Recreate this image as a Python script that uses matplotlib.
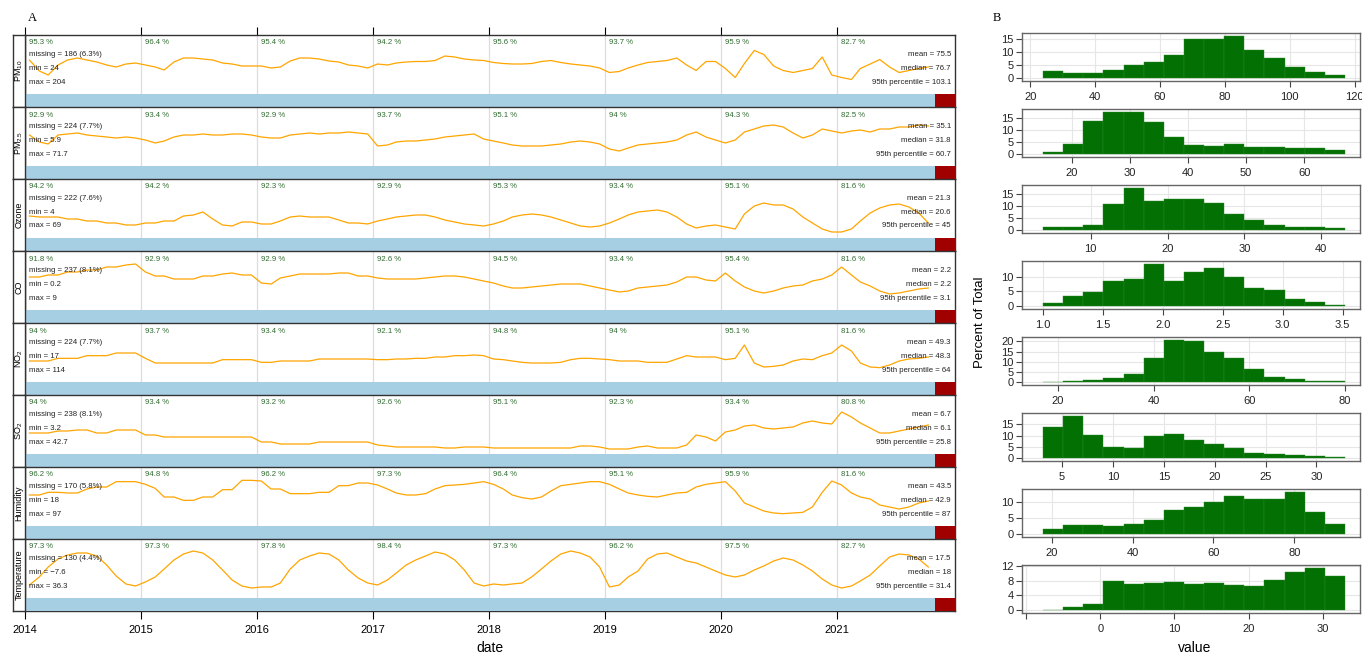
import matplotlib
matplotlib.use('Agg')
import matplotlib.pyplot as plt
import numpy as np
import pandas as pd

plt.rcParams['font.family'] = ['Liberation Sans', 'DejaVu Sans']
plt.rcParams['mathtext.default'] = 'regular'

# %%
# monthly levels (Jan 2014 .. Oct 2021)
pm10 = [90, 68, 60, 80, 90, 94, 90, 86, 80, 76, 82, 84,
        80, 76, 70, 86, 94, 94, 92, 90, 84, 82, 78, 78,
        78, 74, 76, 88, 94, 94, 92, 88, 86, 80, 78, 74,
        82, 80, 84, 86, 87, 87, 89, 98, 96, 92, 90, 89,
        85, 83, 82, 82, 83, 87, 89, 85, 82, 80, 78, 74,
        65, 67, 74, 80, 85, 87, 89, 94, 80, 69, 87, 87,
        73, 55, 83, 109, 101, 78, 69, 65, 69, 73, 96, 60,
        55, 51, 73, 82, 91, 76, 65, 69, 73, 76]
pm25 = [36, 29, 27, 36, 37, 38, 36, 35, 34, 33, 34, 33,
        31, 28, 30, 34, 36, 36, 37, 36, 36, 37, 37, 36,
        34, 33, 33, 36, 37, 38, 37, 38, 38, 39, 38, 37,
        25, 26, 29, 30, 30, 31, 32, 34, 35, 36, 37, 32,
        30, 28, 26, 25, 25, 25, 26, 27, 29, 30, 29, 27,
        22, 20, 23, 26, 27, 28, 29, 31, 36, 39, 34, 31,
        28, 31, 39, 42, 45, 46, 44, 38, 33, 36, 42, 40,
        38, 40, 41, 39, 42, 42, 44, 44, 46, 45]
ozone = [23, 22, 22, 22, 20, 20, 18, 18, 16, 16, 14, 14,
         16, 16, 18, 18, 23, 24, 27, 20, 14, 13, 17, 17,
         15, 15, 18, 22, 23, 22, 22, 22, 19, 16, 16, 15,
         18, 20, 22, 23, 24, 24, 22, 19, 17, 15, 14, 13,
         15, 18, 22, 24, 25, 24, 22, 19, 16, 13, 12, 13,
         16, 20, 24, 27, 28, 29, 27, 22, 15, 11, 13, 14,
         12, 10, 25, 33, 36, 34, 34, 30, 22, 16, 10, 7,
         7, 10, 18, 26, 31, 34, 35, 32, 26, 16]
co = [2.3, 2.3, 2.4, 2.4, 2.55, 2.55, 2.65, 2.65, 2.8, 2.8, 2.9, 2.95,
      2.55, 2.35, 2.35, 2.2, 2.2, 2.2, 2.35, 2.35, 2.45, 2.5, 2.4, 2.4,
      2.0, 1.95, 2.25, 2.35, 2.45, 2.45, 2.45, 2.45, 2.5, 2.5, 2.35, 2.35,
      2.25, 2.2, 2.2, 2.2, 2.2, 2.25, 2.3, 2.35, 2.35, 2.3, 2.2, 2.1,
      2.0, 1.85, 1.75, 1.75, 1.8, 1.85, 1.9, 1.95, 1.95, 1.95, 1.85, 1.75,
      1.65, 1.55, 1.6, 1.75, 1.8, 1.85, 1.9, 2.05, 2.3, 2.3, 2.15, 2.1,
      2.5, 2.1, 1.8, 1.6, 1.5, 1.6, 1.75, 1.85, 1.9, 2.1, 2.2, 2.4,
      2.8, 2.4, 2.05, 1.85, 1.6, 1.45, 1.5, 1.6, 1.7, 1.75]
no2 = [48, 48, 48, 52, 52, 52, 56, 56, 56, 60, 60, 60,
       52, 45, 45, 45, 45, 45, 45, 45, 50, 50, 50, 50,
       46, 46, 48, 48, 48, 48, 51, 51, 51, 51, 51, 51,
       50, 50, 51, 51, 52, 52, 54, 54, 56, 56, 57, 56,
       51, 50, 48, 46, 45, 45, 45, 46, 50, 52, 52, 51,
       50, 48, 48, 48, 46, 46, 46, 51, 56, 54, 54, 54,
       50, 52, 72, 45, 39, 40, 42, 48, 51, 50, 56, 60,
       72, 63, 45, 39, 38, 42, 48, 51, 52, 54]
so2 = [11, 11, 11, 12, 12, 12.5, 12.5, 11, 11, 12.5, 12.5, 12.5,
       10, 10, 9, 9, 9, 9, 9, 9, 9, 9, 9, 9,
       6.5, 6.5, 5.5, 5.5, 5.5, 5.5, 6.5, 6.5, 6.5, 6.5, 6.5, 6.5,
       5, 4.5, 4, 4, 4, 4, 4, 3.5, 3.5, 4, 4, 4,
       3.5, 3.5, 3.5, 3.5, 3.5, 3.5, 3.5, 3.5, 3.5, 4.5, 4.5, 4,
       3, 3, 3, 4, 4.5, 3.5, 3.5, 3.5, 5, 10, 9, 7,
       11.5, 12.5, 14.5, 15, 13.5, 13, 13.5, 14, 16, 17, 16, 15.5,
       21.5, 19, 16, 13.5, 11, 11, 12, 13, 14, 15]
humidity = [48, 48, 52, 52, 51, 51, 57, 60, 60, 68, 68, 68,
            64, 58, 45, 45, 40, 40, 45, 45, 56, 56, 70, 70,
            69, 57, 57, 50, 50, 50, 52, 52, 62, 62, 66, 66,
            63, 57, 51, 48, 48, 50, 57, 62, 63, 64, 66, 68,
            64, 57, 48, 44, 42, 45, 54, 62, 64, 66, 68, 68,
            64, 57, 51, 48, 46, 45, 48, 51, 52, 60, 64, 66,
            68, 54, 36, 30, 24, 21, 20, 21, 22, 30, 52, 69,
            63, 51, 45, 42, 33, 30, 27, 30, 36, 39]
temperature = [-1, 7, 17, 25, 29, 31, 31, 28, 19, 8, 0, -2,
               2, 7, 15, 24, 30, 33, 31, 24, 14, 4, -2, -4,
               -3, -3, 1, 15, 24, 28, 31, 30, 24, 14, 6, 1,
               -1, 4, 11, 19, 24, 28, 32, 30, 24, 14, 1, -2,
               0, -1, 0, 1, 7, 15, 23, 30, 33, 31, 27, 17,
               -3, -1, 7, 13, 25, 30, 31, 27, 23, 21, 17, 13,
               9, 7, 9, 14, 18, 23, 26, 24, 19, 13, 5, -1,
               -4, -2, 3, 9, 18, 27, 30, 29, 25, 17]

series = [pm10, pm25, ozone, co, no2, so2, humidity, temperature]
strip_labels = ['PM$_{10}$', 'PM$_{2.5}$', 'Ozone', 'CO', 'NO$_2$', 'SO$_2$',
                'Humidity', 'Temperature']
ylims = [(-4, 140), (-8, 64), (-12, 60), (0, 3.6), (-3, 105), (-6, 30),
         (-18, 90), (-27, 45)]

capture = [
    ['95.3', '96.4', '95.4', '94.2', '95.6', '93.7', '95.9', '82.7'],
    ['92.9', '93.4', '92.9', '93.7', '95.1', '94', '94.3', '82.5'],
    ['94.2', '94.2', '92.3', '92.9', '95.3', '93.4', '95.1', '81.6'],
    ['91.8', '92.9', '92.9', '92.6', '94.5', '93.4', '95.4', '81.6'],
    ['94', '93.7', '93.4', '92.1', '94.8', '94', '95.1', '81.6'],
    ['94', '93.4', '93.2', '92.6', '95.1', '92.3', '93.4', '80.8'],
    ['96.2', '94.8', '96.2', '97.3', '96.4', '95.1', '95.9', '81.6'],
    ['97.3', '97.3', '97.8', '98.4', '97.3', '96.2', '97.5', '82.7'],
]
missing = ['186 (6.3%)', '224 (7.7%)', '222 (7.6%)', '237 (8.1%)',
           '224 (7.7%)', '238 (8.1%)', '170 (5.8%)', '130 (4.4%)']
mins = ['24', '5.9', '4', '0.2', '17', '3.2', '18', '\u22127.6']
maxs = ['204', '71.7', '69', '9', '114', '42.7', '97', '36.3']
means = ['75.5', '35.1', '21.3', '2.2', '49.3', '6.7', '43.5', '17.5']
medians = ['76.7', '31.8', '20.6', '2.2', '48.3', '6.1', '42.9', '18']
p95 = ['103.1', '60.7', '45', '3.1', '64', '25.8', '87', '31.4']

# histograms (percent of total, 15 bins)
hist_lo = [24, 15.1, 3.8, 1.0, 16.9, 3.14, 17.9, -7.7]
hist_hi = [117, 67.0, 43.1, 3.52, 80.0, 32.8, 92.5, 32.96]
hist_pct = [
    [2.6, 1.8, 2.0, 2.9, 4.9, 6.2, 8.7, 15.1, 15.1, 16.1, 10.6, 7.6, 4.3, 2.4, 1.1],
    [0.7, 4.3, 14.0, 17.4, 17.6, 13.6, 7.2, 3.75, 3.3, 4.3, 2.8, 3.1, 2.5, 2.5, 1.7],
    [1.4, 1.3, 2.2, 11.1, 17.7, 12.1, 13.2, 12.9, 11.5, 6.6, 4.1, 2.1, 1.1, 1.3, 0.7],
    [1.0, 3.3, 4.8, 8.6, 9.2, 14.3, 8.6, 11.6, 12.8, 9.8, 6.1, 5.3, 2.5, 1.5, 0.3],
    [0.2, 0.5, 1.0, 1.8, 3.8, 11.8, 20.7, 20.0, 14.9, 11.6, 6.6, 2.3, 1.3, 0.7, 0.5],
    [13.8, 18.7, 10.3, 4.8, 4.5, 9.7, 10.8, 7.8, 6.3, 4.3, 2.1, 1.8, 1.35, 0.75, 0.45],
    [1.6, 2.8, 2.9, 2.55, 3.1, 4.3, 7.4, 8.6, 10.2, 11.8, 11.0, 11.1, 13.2, 7.0, 3.2],
    [0.1, 0.7, 1.7, 7.9, 7.1, 7.4, 7.6, 7.2, 7.3, 6.9, 6.6, 8.3, 10.4, 11.5, 9.4],
]
hist_xticks = [[20, 40, 60, 80, 100, 120], [20, 30, 40, 50, 60], [10, 20, 30, 40],
               [1.0, 1.5, 2.0, 2.5, 3.0, 3.5], [20, 40, 60, 80],
               [5, 10, 15, 20, 25, 30], [20, 40, 60, 80], [-10, 0, 10, 20, 30]]
hist_xlabels = [['20', '40', '60', '80', '100', '120'], ['20', '30', '40', '50', '60'],
                ['10', '20', '30', '40'], ['1.0', '1.5', '2.0', '2.5', '3.0', '3.5'],
                ['20', '40', '60', '80'], ['5', '10', '15', '20', '25', '30'],
                ['20', '40', '60', '80'], ['', '0', '10', '20', '30']]
hist_yticks = [[0, 5, 10, 15], [0, 5, 10, 15], [0, 5, 10, 15], [0, 5, 10],
               [0, 5, 10, 15, 20], [0, 5, 10, 15], [0, 5, 10], [0, 4, 8, 12]]

# %%
W, H = 1362, 656
fig = plt.figure(figsize=(W / 100, H / 100), dpi=100)


def box(left, top, width, height):
    return [left / W, 1 - (top + height) / H, width / W, height / H]


dates = pd.date_range('2014-01-01', '2021-10-01', freq='MS') + pd.Timedelta(days=14)
x_start = pd.Timestamp('2014-01-01')
data_end = pd.Timestamp('2021-11-04')
x_end = pd.Timestamp('2022-01-07')
years = pd.date_range('2014-01-01', '2021-01-01', freq='YS')

band = 13 / 72
green = '#2f6b30'
for i in range(8):
    top = 35 + 72 * i
    ax = fig.add_axes(box(25, top, 930, 72))
    for y in years:
        ax.axvline(y, color='#dddddd', lw=0.9, zorder=0)
    ax.plot(dates, series[i], color='#FFA500', lw=0.9, zorder=2)
    ax.axvspan(x_start, data_end, ymin=0, ymax=band, color='#a6cfe3', lw=0, zorder=3)
    ax.axvspan(data_end, x_end, ymin=0, ymax=band, color='#a00000', lw=0, zorder=3)
    ax.set_xlim(x_start, x_end)
    ax.set_ylim(*ylims[i])
    ax.set_yticks([])
    for s in ax.spines.values():
        s.set_color('#333333')
        s.set_linewidth(1.0)
    ax.set_xticks(years)
    if i == 0:
        ax.tick_params(axis='x', top=True, bottom=False, labeltop=False,
                       labelbottom=False, direction='out', length=6)
    elif i == 7:
        ax.set_xticklabels([str(y.year) for y in years])
        ax.tick_params(axis='x', bottom=True, direction='out', length=6,
                       labelsize=8, pad=4)
    else:
        ax.tick_params(axis='x', bottom=False, labelbottom=False)

    tr = ax.get_xaxis_transform()
    for y, pct in zip(years, capture[i]):
        ax.text(y + pd.Timedelta(days=12), 1 - 8 / 72, pct + ' %', transform=tr,
                color=green, fontsize=5.6, va='center', ha='left', zorder=4)
    left_txt = ['missing = ' + missing[i], 'min = ' + mins[i], 'max = ' + maxs[i]]
    right_txt = ['mean = ' + means[i], 'median = ' + medians[i],
                 '95th percentile = ' + p95[i]]
    for k, off in enumerate([19.5, 33, 47]):
        ax.text(0.0045, 1 - off / 72, left_txt[k], transform=ax.transAxes,
                fontsize=5.6, va='center', ha='left', color='#222222', zorder=4)
        ax.text(0.9955, 1 - off / 72, right_txt[k], transform=ax.transAxes,
                fontsize=5.6, va='center', ha='right', color='#222222', zorder=4)

    st = fig.add_axes(box(13, top, 12, 72))
    st.set_xticks([])
    st.set_yticks([])
    for s in st.spines.values():
        s.set_color('#333333')
        s.set_linewidth(1.0)
    st.text(0.5, 0.5, strip_labels[i], rotation=90, ha='center', va='center',
            fontsize=6.5, transform=st.transAxes)

fig.text(28 / W, 1 - 18 / H, 'A', family=['Liberation Serif', 'DejaVu Serif'],
         fontsize=9, va='center', ha='left')
fig.text(490 / W, 1 - 655 / H, 'date', fontsize=10, ha='center', va='bottom')

# %%
# panel B: histograms
for j in range(8):
    top = 33 + 76 * j
    ax = fig.add_axes(box(1022, top, 338, 48))
    lo, hi = hist_lo[j], hist_hi[j]
    edges = np.linspace(lo, hi, len(hist_pct[j]) + 1)
    ax.bar(edges[:-1], hist_pct[j], width=np.diff(edges), align='edge',
           color='#037003', edgecolor='#2b8a2b', lw=0.3, zorder=2)
    r = hi - lo
    ax.set_xlim(lo - 0.07 * r, hi + 0.05 * r)
    m = max(hist_pct[j])
    ax.set_ylim(-0.07 * m, 1.07 * m)
    ax.set_xticks(hist_xticks[j])
    ax.set_xticklabels(hist_xlabels[j])
    ax.set_yticks(hist_yticks[j])
    ax.grid(True, color='#e6e6e6', lw=0.8, zorder=0)
    ax.set_axisbelow(True)
    ax.tick_params(axis='both', direction='out', length=4, labelsize=8,
                   color='#444444', labelcolor='#222222')
    ax.tick_params(axis='x', pad=4)
    ax.tick_params(axis='y', pad=2)
    for s in ax.spines.values():
        s.set_color('#666666')
        s.set_linewidth(1.0)

fig.text(993 / W, 1 - 18 / H, 'B', family=['Liberation Serif', 'DejaVu Serif'],
         fontsize=9, va='center', ha='left')
fig.text(980 / W, 1 - 322 / H, 'Percent of Total', rotation=90, fontsize=9.5,
         ha='center', va='center')
fig.text(1195 / W, 1 - 655 / H, 'value', fontsize=10, ha='center', va='bottom')

fig.savefig('out.png', dpi=100)
